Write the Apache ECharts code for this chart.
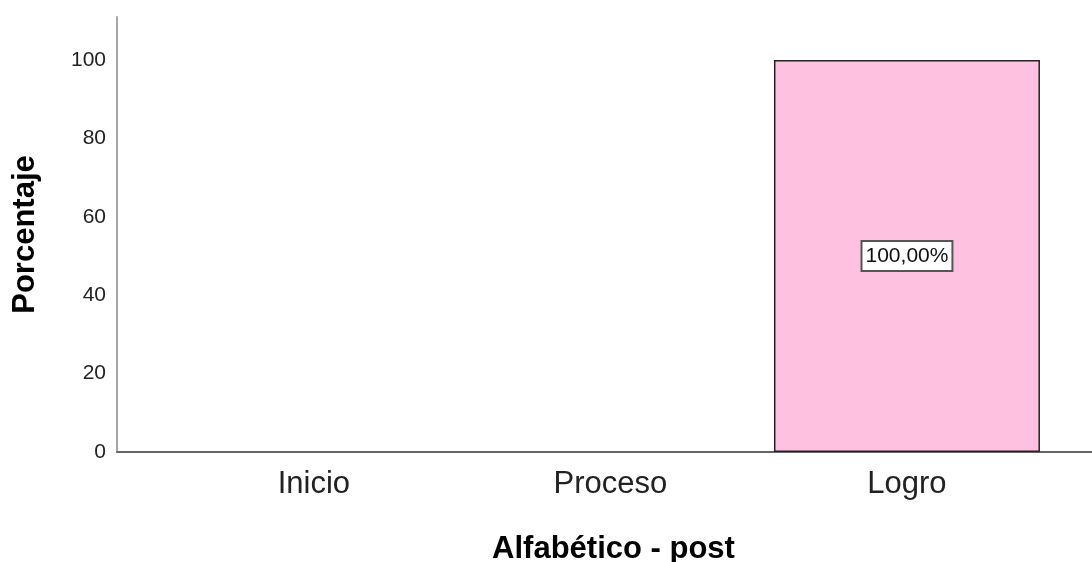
<!DOCTYPE html>
<html>
<head>
<meta charset="utf-8">
<script src="https://cdn.jsdelivr.net/npm/echarts@6/dist/echarts.min.js"></script>
<style>html,body{margin:0;padding:0;background:#fff}#c{width:1092px;height:562px}</style>
</head>
<body>
<div id="c"></div>
<script>
const categories = ['Inicio', 'Proceso', 'Logro'];
const positions = [1, 2, 3];
const values = [0, 0, 100];
const valueLabels = ['', '', '100,00%'];
const yTicks = [0, 20, 40, 60, 80, 100];
const xTitle = 'Alfabético - post';
const yTitle = 'Porcentaje';

const chart = echarts.init(document.getElementById('c'), null, {renderer: 'canvas'});
chart.setOption({
  animation: false,
  backgroundColor: '#ffffff',
  grid: {left: 117, right: 0, top: 17, bottom: 110, containLabel: false, outerBoundsMode: 'none'},
  xAxis: {
    type: 'value',
    min: 0.336,
    max: 3.624,
    name: xTitle,
    nameLocation: 'middle',
    nameGap: 82,
    nameTextStyle: {fontFamily: 'Liberation Sans', fontWeight: 'bold', fontSize: 31, color: '#000', padding: [0, 0, 0, 18]},
    axisLine: {show: true, onZero: false, lineStyle: {color: '#666666', width: 2}},
    axisTick: {show: false},
    splitLine: {show: false},
    axisLabel: {
      customValues: positions,
      margin: 17,
      fontFamily: 'Liberation Sans',
      fontSize: 31,
      color: '#222',
      formatter: v => categories[positions.indexOf(Math.round(v))] || ''
    }
  },
  yAxis: {
    type: 'value',
    min: 0,
    max: 111,
    interval: 20,
    name: yTitle,
    nameLocation: 'middle',
    nameGap: 76,
    nameTextStyle: {fontFamily: 'Liberation Sans', fontWeight: 'bold', fontSize: 31, color: '#000'},
    axisLine: {show: true, lineStyle: {color: '#a6a6a6', width: 2}},
    axisTick: {show: false},
    splitLine: {show: false},
    axisLabel: {
      showMaxLabel: false,
      margin: 11,
      padding: [14, 0, 0, 0],
      fontFamily: 'Liberation Sans',
      fontSize: 21,
      color: '#222',
      formatter: v => yTicks.includes(v) ? String(v) : ''
    }
  },
  series: [{
    type: 'bar',
    barWidth: 266,
    data: positions.map((p, i) => ({
      value: [p, values[i]],
      itemStyle: values[i] === 0 ? {borderWidth: 0, opacity: 0} : undefined,
      label: values[i] === 0 ? {show: false} : undefined
    })),
    itemStyle: {color: '#fec2e0', borderColor: '#222', borderWidth: 1.5},
    label: {
      show: true,
      position: 'inside',
      formatter: p => valueLabels[p.dataIndex],
      fontFamily: 'Liberation Sans',
      fontSize: 21,
      color: '#111',
      backgroundColor: '#ffffff',
      borderColor: '#555',
      borderWidth: 2,
      padding: [4, 3, 3, 3]
    }
  }]
});
</script>
</body>
</html>
